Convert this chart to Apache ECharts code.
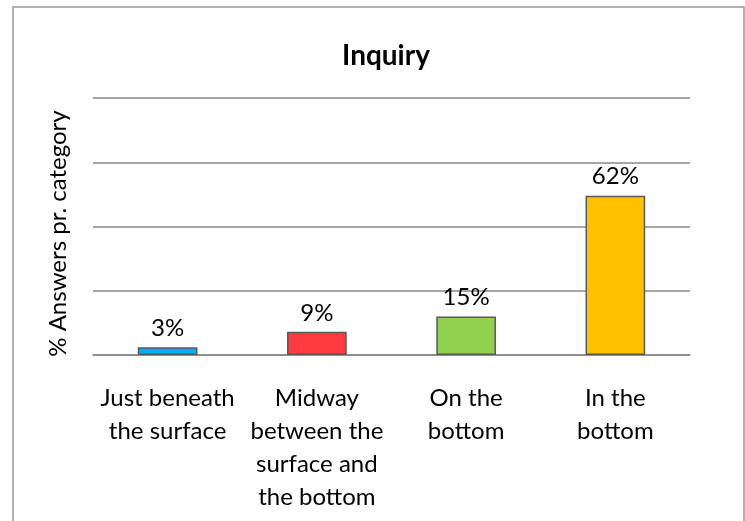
<!DOCTYPE html>
<html>
<head>
<meta charset="utf-8">
<script src="https://cdn.jsdelivr.net/npm/echarts@6/dist/echarts.min.js"></script>
<style>
  html, body { margin: 0; padding: 0; background: #fff; }
  #main { width: 745px; height: 521px; }
</style>
</head>
<body>
<div id="main"></div>
<script>
// 数据
var categories = ['Just beneath\nthe surface', 'Midway\nbetween the\nsurface and\nthe bottom', 'On the\nbottom', 'In the\nbottom']
var values = [3, 9, 15, 62]
var barColors = ['#00B0F0', '#FF3B3F', '#92D050', '#FFC000']

var fontFamily = 'Lato, "Liberation Sans", sans-serif'

var chart = echarts.init(document.getElementById('main'))

var option = {
  animation: false,
  backgroundColor: '#fff',
  title: {
    text: 'Inquiry',
    left: 381,
    top: 37,
    textAlign: 'center',
    textStyle: { fontFamily: fontFamily, fontSize: 28, fontWeight: 'bold', color: '#000' }
  },
  graphic: [
    {
      type: 'rect',
      shape: { x: 13, y: 7, width: 731, height: 560 },
      style: { fill: 'none', stroke: '#999', lineWidth: 1.5 },
      silent: true
    }
  ],
  grid: {
    left: 93,
    right: 55,
    top: 98,
    bottom: 166,
    containLabel: false
  },
  xAxis: {
    type: 'category',
    data: categories,
    axisTick: { show: false },
    axisLine: { show: true, lineStyle: { color: '#888', width: 1.5 } },
    axisLabel: {
      interval: 0,
      margin: 27,
      color: '#000',
      fontFamily: fontFamily,
      fontSize: 24,
      lineHeight: 33,
      verticalAlign: 'top'
    }
  },
  yAxis: {
    type: 'value',
    min: 0,
    max: 100,
    interval: 25,
    name: '% Answers pr. category',
    nameLocation: 'middle',
    nameGap: 23,
    nameRotate: 90,
    nameTextStyle: { fontFamily: fontFamily, fontSize: 24, color: '#000', padding: [0, 14, 0, 0] },
    axisLabel: { show: false },
    axisTick: { show: false },
    axisLine: { show: false },
    splitLine: { lineStyle: { color: '#888', width: 1.5 } }
  },
  series: [
    {
      type: 'bar',
      barWidth: '40%',
      data: values.map(function (v, i) {
        return { value: v, itemStyle: { color: barColors[i] } }
      }),
      itemStyle: { borderColor: '#595959', borderWidth: 1.5 },
      label: {
        show: true,
        position: 'top',
        distance: 7,
        formatter: '{c}%',
        color: '#000',
        fontFamily: fontFamily,
        fontSize: 24
      }
    }
  ]
}

chart.setOption(option)
</script>
</body>
</html>
